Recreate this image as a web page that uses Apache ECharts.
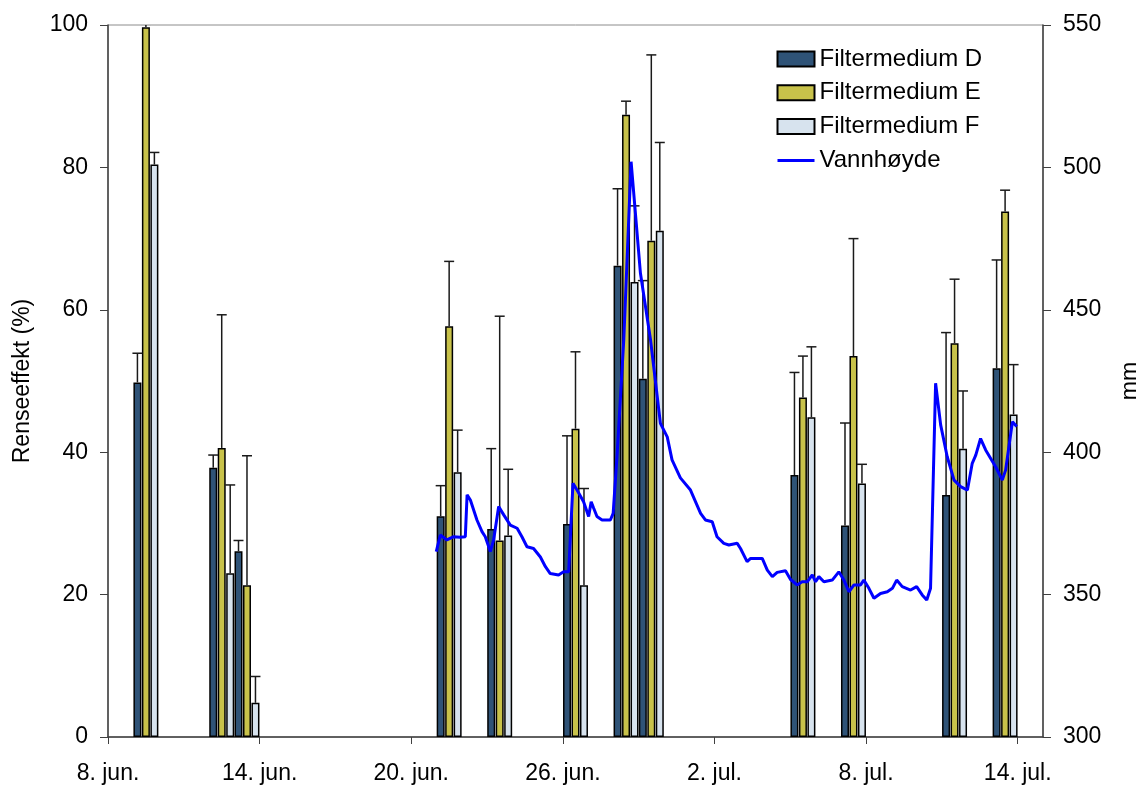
<!DOCTYPE html>
<html>
<head>
<meta charset="utf-8">
<title>Renseeffekt og vannhøyde</title>
<script src="https://cdn.jsdelivr.net/npm/echarts@6/dist/echarts.min.js"></script>
<style>
    html, body { margin: 0; padding: 0; background: #fff; }
    #chart { width: 1136px; height: 785px; }
</style>
</head>
<body>
<div id="chart"></div>
<script>
    // dager etter 8. juni (prøvedato)
    const sampleDays = [1, 4, 5, 13, 15, 18, 20, 21, 27, 29, 33, 35];

    const effD = [49.8, 37.8, 26.1, 31.0, 29.2, 29.9, 66.2, 50.3, 36.8, 29.7, 34.0, 51.8];
    const errD = [4.1, 1.8, 1.5, 4.3, 11.3, 12.4, 10.8, 13.8, 14.4, 14.4, 22.8, 15.2];
    const effE = [99.7, 40.6, 21.3, 57.7, 27.6, 43.3, 87.4, 69.7, 47.7, 53.5, 55.3, 73.8];
    const errE = [0.4, 18.7, 18.2, 9.1, 31.5, 10.8, 1.9, 26.1, 5.8, 16.5, 9.0, 3.0];
    const effF = [80.4, 23.0, 4.8, 37.2, 28.3, 21.3, 63.9, 71.1, 44.9, 35.6, 40.5, 45.3];
    const errF = [1.7, 12.4, 3.7, 5.9, 9.3, 13.6, 10.7, 12.4, 9.9, 2.7, 8.1, 7.0];

    // vannhøyde (mm), tid i dager etter 8. juni
    const levelDays = [12.99, 13.15, 13.41, 13.66, 13.94, 14.14, 14.21, 14.34, 14.60, 14.80,
        14.93, 15.13, 15.26, 15.46, 15.66, 15.92, 16.19, 16.38, 16.58, 16.84,
        17.11, 17.31, 17.50, 17.83, 18.03, 18.23, 18.40, 18.56, 18.82, 19.02,
        19.12, 19.22, 19.35, 19.55, 19.88, 19.99, 20.15, 20.41, 20.70, 21.07,
        21.47, 21.86, 22.13, 22.32, 22.65, 23.05, 23.45, 23.64, 23.91, 24.10,
        24.37, 24.57, 24.90, 25.03, 25.29, 25.43, 25.89, 26.09, 26.29, 26.48,
        26.81, 27.01, 27.27, 27.47, 27.67, 27.87, 28.00, 28.13, 28.33, 28.66,
        28.92, 29.12, 29.32, 29.52, 29.78, 29.91, 30.11, 30.31, 30.57, 30.84,
        31.04, 31.21, 31.43, 31.76, 32.00, 32.22, 32.40, 32.55, 32.75, 32.95,
        33.21, 33.48, 33.74, 34.01, 34.20, 34.34, 34.53, 34.73, 34.93, 35.13,
        35.39, 35.52, 35.79, 35.96];
    const levelMm = [365.1, 370.9, 369.2, 370.3, 370.1, 370.3, 385.0, 383.2, 376.2, 372.1,
        370.3, 365.1, 369.2, 380.9, 378.0, 374.4, 373.3, 370.3, 366.8, 366.2,
        363.2, 359.8, 357.4, 356.9, 358.0, 358.0, 389.1, 386.7, 382.6, 377.4,
        382.6, 380.3, 377.4, 376.2, 376.2, 378.5, 399.6, 439.4, 502.0, 462.8,
        439.4, 410.1, 405.4, 397.3, 391.0, 386.7, 378.5, 376.2, 375.6, 370.3,
        368.0, 367.4, 368.0, 366.2, 361.6, 362.7, 362.7, 358.6, 356.3, 357.8,
        358.4, 355.3, 353.4, 354.5, 354.5, 356.9, 354.5, 356.3, 354.5, 355.1,
        358.0, 355.1, 351.0, 353.4, 353.4, 355.1, 352.2, 348.7, 350.4, 351.0,
        352.2, 355.1, 352.8, 351.6, 352.8, 349.9, 348.1, 352.2, 424.2, 409.6,
        398.4, 390.2, 387.9, 386.7, 396.1, 399.0, 404.8, 400.8, 397.8, 394.8,
        390.2, 393.7, 410.7, 409.0];

    const leftTicks = [0, 100, 20];
    const rightTicks = [300, 550, 50];

    const font = "'Liberation Sans', Arial, sans-serif";
    const barW = 8;
    const barGap = 0.06;
    const step = barW * (1 + barGap);

    function dayLabel(v) {
        let n = 8 + v;
        if (n <= 30) return n + '. jun.';
        return (n - 30) + '. jul.';
    }

    function barData(vals) {
        return sampleDays.map((d, i) => [d + 0.5, vals[i]]);
    }

    function errSeries(vals, errs, idx) {
        return {
            type: 'custom',
            xAxisIndex: 0,
            yAxisIndex: 0,
            z: 3,
            clip: true,
            silent: true,
            data: sampleDays.map((d, i) => [d + 0.5, vals[i], vals[i] + errs[i]]),
            renderItem: function (params, api) {
                let p0 = api.coord([api.value(0), api.value(1)]);
                let p1 = api.coord([api.value(0), api.value(2)]);
                let x = p0[0] + (idx - 1) * step;
                let st = { stroke: '#1a1a1a', lineWidth: 1.5 };
                return {
                    type: 'group',
                    children: [
                        { type: 'line', shape: { x1: x, y1: p0[1], x2: x, y2: p1[1] }, style: st },
                        { type: 'line', shape: { x1: x - 5, y1: p1[1], x2: x + 5, y2: p1[1] }, style: st }
                    ]
                };
            }
        };
    }

    function bar(name, vals, color) {
        return {
            name: name,
            type: 'bar',
            barWidth: barW,
            barGap: (barGap * 100) + '%',
            z: 2,
            itemStyle: { color: color, borderColor: '#000', borderWidth: 1.5 },
            data: barData(vals)
        };
    }

    let option = {
        animation: false,
        textStyle: { fontFamily: font },
        grid: {
            left: 108, right: 93, top: 25, bottom: 48,
            outerBoundsMode: 'none',
            containLabel: false,
            show: true, borderColor: '#8c8c8c', borderWidth: 1
        },
        legend: {
            orient: 'vertical',
            left: 776,
            top: 47,
            padding: 0,
            itemWidth: 37,
            itemHeight: 15,
            itemGap: 9.8,
            textStyle: { fontFamily: font, fontSize: 24, color: '#000' },
            data: [
                { name: 'Filtermedium D', icon: 'rect' },
                { name: 'Filtermedium E', icon: 'rect' },
                { name: 'Filtermedium F', icon: 'rect' },
                { name: 'Vannhøyde', itemStyle: { opacity: 0 }, lineStyle: { width: 3 } }
            ]
        },
        xAxis: {
            type: 'value',
            min: 0,
            max: 37,
            interval: 6,
            splitLine: { show: false },
            axisLine: { lineStyle: { color: '#404040', width: 1.5 } },
            axisTick: { length: 7, lineStyle: { color: '#404040' } },
            axisLabel: {
                showMaxLabel: false,
                margin: 25,
                fontSize: 23,
                color: '#000',
                fontFamily: font,
                formatter: dayLabel
            }
        },
        yAxis: [
            {
                type: 'value',
                min: leftTicks[0],
                max: leftTicks[1],
                interval: leftTicks[2],
                name: 'Renseeffekt (%)',
                nameLocation: 'middle',
                nameGap: 74,
                nameTextStyle: { fontSize: 23, color: '#000', fontFamily: font },
                splitLine: { show: false },
                axisLine: { show: true, lineStyle: { color: '#404040', width: 1.5 } },
                axisTick: { show: true, length: 8, lineStyle: { color: '#404040' } },
                axisLabel: { margin: 20, fontSize: 23, color: '#000', fontFamily: font }
            },
            {
                type: 'value',
                min: rightTicks[0],
                max: rightTicks[1],
                interval: rightTicks[2],
                position: 'right',
                name: 'mm',
                nameLocation: 'middle',
                nameGap: 76,
                nameRotate: 90,
                nameTextStyle: { fontSize: 23, color: '#000', fontFamily: font },
                splitLine: { show: false },
                axisLine: { show: true, lineStyle: { color: '#404040', width: 1.5 } },
                axisTick: { show: true, length: 8, lineStyle: { color: '#404040' } },
                axisLabel: { margin: 20, fontSize: 23, color: '#000', fontFamily: font }
            }
        ],
        series: [
            bar('Filtermedium D', effD, '#2f5377'),
            bar('Filtermedium E', effE, '#c8c24a'),
            bar('Filtermedium F', effF, '#d7e3ee'),
            errSeries(effD, errD, 0),
            errSeries(effE, errE, 1),
            errSeries(effF, errF, 2),
            {
                name: 'Vannhøyde',
                type: 'line',
                yAxisIndex: 1,
                z: 4,
                symbol: 'none',
                lineStyle: { color: '#0000ff', width: 3 },
                itemStyle: { color: '#0000ff' },
                data: levelDays.map((d, i) => [d, levelMm[i]])
            }
        ]
    };

    let myChart = echarts.init(document.getElementById('chart'));
    myChart.setOption(option);
</script>
</body>
</html>
